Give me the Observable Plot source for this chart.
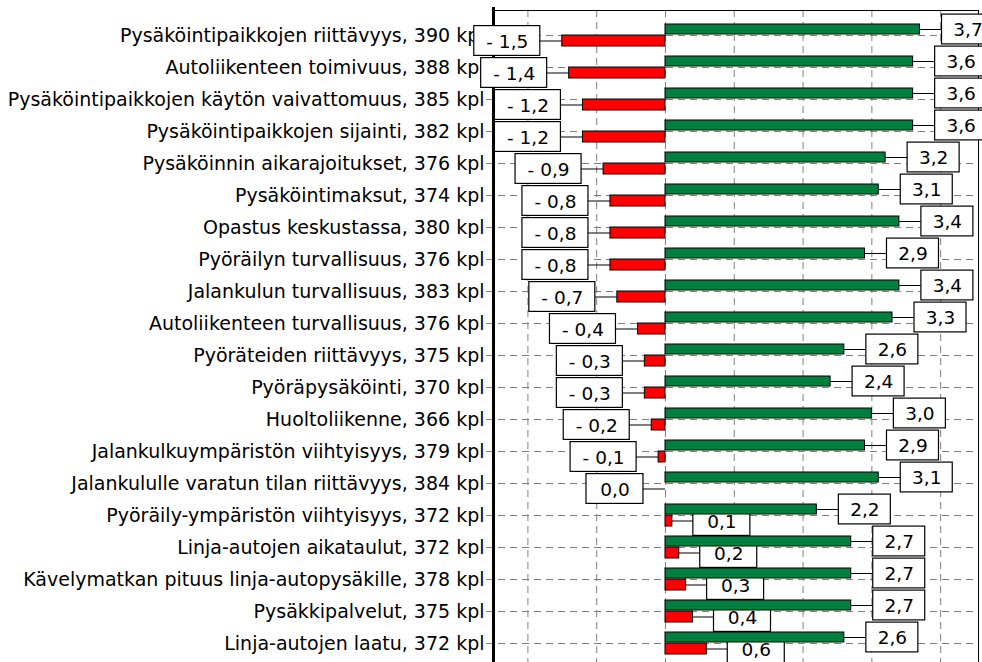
<!DOCTYPE html>
<html>
<head>
<meta charset="utf-8">
<script src="https://cdn.jsdelivr.net/npm/d3@7"></script>
<script src="https://cdn.jsdelivr.net/npm/@observablehq/plot@0.6"></script>
<style>
html, body { margin: 0; padding: 0; background: #fff; overflow: hidden; }
#chart svg { display: block; }
</style>
</head>
<body>
<div id="chart"></div>
<script>
const categories = [
  "Pysäköintipaikkojen riittävyys, 390 kpl",
  "Autoliikenteen toimivuus, 388 kpl",
  "Pysäköintipaikkojen käytön vaivattomuus, 385 kpl",
  "Pysäköintipaikkojen sijainti, 382 kpl",
  "Pysäköinnin aikarajoitukset, 376 kpl",
  "Pysäköintimaksut, 374 kpl",
  "Opastus keskustassa, 380 kpl",
  "Pyöräilyn turvallisuus, 376 kpl",
  "Jalankulun turvallisuus, 383 kpl",
  "Autoliikenteen turvallisuus, 376 kpl",
  "Pyöräteiden riittävyys, 375 kpl",
  "Pyöräpysäköinti, 370 kpl",
  "Huoltoliikenne, 366 kpl",
  "Jalankulkuympäristön viihtyisyys, 379 kpl",
  "Jalankululle varatun tilan riittävyys, 384 kpl",
  "Pyöräily-ympäristön viihtyisyys, 372 kpl",
  "Linja-autojen aikataulut, 372 kpl",
  "Kävelymatkan pituus linja-autopysäkille, 378 kpl",
  "Pysäkkipalvelut, 375 kpl",
  "Linja-autojen laatu, 372 kpl"
];
const greenValues = [3.7, 3.6, 3.6, 3.6, 3.2, 3.1, 3.4, 2.9, 3.4, 3.3, 2.6, 2.4, 3.0, 2.9, 3.1, 2.2, 2.7, 2.7, 2.7, 2.6];
const redValues = [-1.5, -1.4, -1.2, -1.2, -0.9, -0.8, -0.8, -0.8, -0.7, -0.4, -0.3, -0.3, -0.2, -0.1, 0.0, 0.1, 0.2, 0.3, 0.4, 0.6];
const xTicks = [-2, -1, 0, 1, 2, 3, 4];
const xDomain = [-2.5, 4.55];

const rows = categories.map((cat, i) => ({cat, green: greenValues[i], red: redValues[i]}));
const redNeg = rows.filter(d => d.red < 0);
const redZero = rows.filter(d => d.red === 0);
const redPos = rows.filter(d => d.red > 0);

const fmt = v => (v < 0 ? "- " : "") + Math.abs(v).toFixed(1).replace(".", ",");

const FONT = "DejaVu Sans, Verdana, sans-serif";
const FS_LABEL = 19;
const FS_VALUE = 18.5;
const GREEN = "#00803f";
const RED = "#ff0000";
const GRID = "#808080";

// leader line + boxed value label
function labelMarks(subset, field, side, w, gap, dy) {
  const inTop = 1.1 + dy, inBottom = 1.1 - dy;
  return [
    Plot.ruleY(subset, {
      y: "cat", x1: field, x2: field, dy,
      insetLeft: side < 0 ? -gap : 0, insetRight: side > 0 ? -gap : 0,
      stroke: "black", strokeWidth: 1
    }),
    Plot.barX(subset, {
      y: "cat", x1: field, x2: field,
      insetTop: inTop, insetBottom: inBottom,
      insetLeft: side < 0 ? -(gap + w) : gap,
      insetRight: side < 0 ? gap : -(gap + w),
      fill: "white", stroke: "black", strokeWidth: 1.2
    }),
    Plot.text(subset, {
      y: "cat", x: field, text: d => fmt(d[field]),
      dx: side * (gap + w / 2), dy: dy + 1,
      fontSize: FS_VALUE, fontFamily: FONT, fill: "black"
    })
  ];
}

const chart = Plot.plot({
  width: 982,
  height: 668,
  marginLeft: 493,
  marginRight: 4,
  marginTop: 10,
  marginBottom: 0,
  style: {fontFamily: FONT, fontSize: FS_LABEL + "px", color: "black", background: "white"},
  x: {domain: xDomain, axis: null},
  y: {domain: categories, paddingInner: 0, paddingOuter: 0.214, axis: null},
  marks: [
    // grid
    Plot.ruleY(categories, {y: d => d, insetLeft: -7, stroke: GRID, strokeDasharray: "7,5", strokeWidth: 1}),
    Plot.ruleX(xTicks, {x: d => d, stroke: GRID, strokeDasharray: "7,5", strokeWidth: 1}),
    Plot.frame({stroke: "black", strokeWidth: 1}),
    Plot.ruleX([xDomain[0]], {x: d => d, stroke: "black", strokeWidth: 3, insetTop: -3}),
    Plot.axisY({tickSize: 0, tickPadding: 9, fontSize: FS_LABEL, fontFamily: FONT, label: null}),
    // labels for small positive red values (partly under the green bars)
    ...labelMarks(redPos, "red", 1, 57, 21, 5.5),
    // bars
    Plot.barX(rows, {y: "cat", x1: 0, x2: "green", insetTop: 5, insetBottom: 17, fill: GREEN, stroke: "black", strokeWidth: 1}),
    Plot.barX(rows, {y: "cat", x1: 0, x2: "red", insetTop: 16, insetBottom: 5, fill: RED, stroke: "black", strokeWidth: 1}),
    // value labels
    ...labelMarks(rows, "green", 1, 52, 22, -6),
    ...labelMarks(redNeg, "red", -1, 66, 22, 5.5),
    ...labelMarks(redZero, "red", -1, 57, 22, 5.5)
  ]
});
document.getElementById("chart").appendChild(chart);
</script>
</body>
</html>
